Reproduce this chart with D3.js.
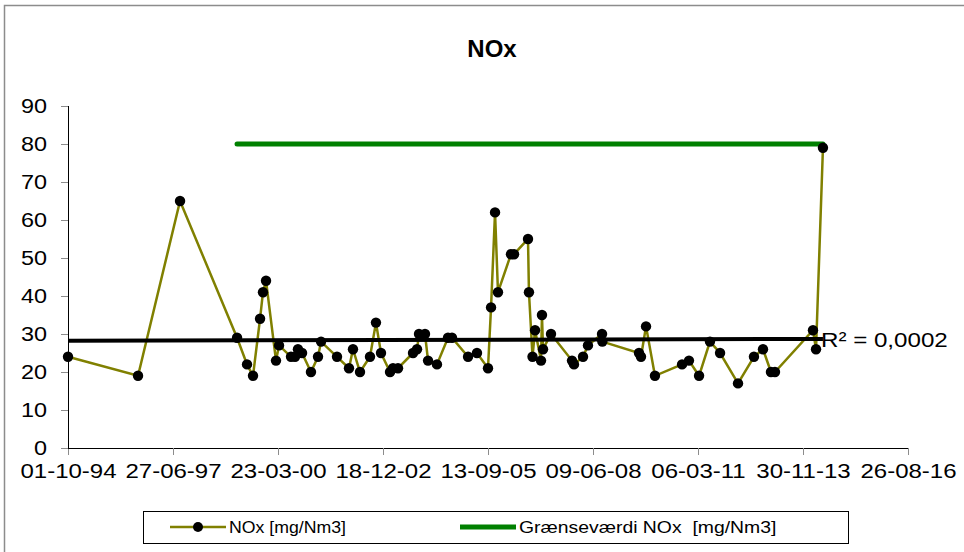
<!DOCTYPE html>
<head>
<meta charset="utf-8">
<title>NOx</title>
<script src="https://d3js.org/d3.v7.min.js"></script>
<style>
body { margin: 0; background: #fff; }
text { font-family: Arial, "Liberation Sans", sans-serif; fill: #000; }
.axis path, .axis line { shape-rendering: crispEdges; }
</style>
</head>
<body>
<div id="container"></div>
<script>

//------------------------DATA-------------------------//

// measurement dates (dd-mm-yy) and NOx values [mg/Nm3]
const noxDates = [
  "01-10-94","29-07-96","02-09-97","27-02-99","02-06-99","29-07-99","04-10-99","01-11-99",
  "30-11-99","04-03-00","02-04-00","25-07-00","01-09-00","29-09-00","07-11-00","31-01-01",
  "08-04-01","07-05-01","06-10-01","28-01-02","07-03-02","13-05-02","16-08-02","12-10-02",
  "29-11-02","23-02-03","23-03-03","10-05-03","30-09-03","07-11-03","26-11-03","22-01-04",
  "20-02-04","15-05-04","28-08-04","05-10-04","07-03-05","31-05-05","13-09-05","12-10-05",
  "19-11-05","17-12-05","20-04-06","19-05-06","29-09-06","08-10-06","11-11-06","05-12-06",
  "31-01-07","09-02-07","19-02-07","06-05-07","22-11-07","11-12-07","06-03-08","22-04-08",
  "03-09-08","06-09-08","21-08-09","09-09-09","27-10-09","20-01-10","05-10-10","10-12-10",
  "16-03-11","28-06-11","02-10-11","21-03-12","20-08-12","14-11-12","29-01-13","08-03-13",
  "05-03-14","03-04-14","08-06-14"
];
const noxValues = [
  24, 19, 65, 29, 22, 19, 34, 41,
  44, 23, 27, 24, 24, 26, 25, 20,
  24, 28, 24, 21, 26, 20, 24, 33,
  25, 20, 21, 21, 25, 26, 30, 30,
  23, 22, 29, 29, 24, 25, 21, 37,
  62, 41, 51, 51, 55, 41, 24, 31,
  23, 35, 26, 30, 23, 22, 24, 27,
  30, 28, 25, 24, 32, 19, 22, 23,
  19, 28, 25, 17, 24, 26, 20, 20,
  31, 26, 79
];

// limit value line
const limitDates = ["27-02-99", "08-06-14"];
const limitValues = [80, 80];

// linear trend line
const trendDates = ["01-10-94", "08-06-14"];
const trendValues = [28.2, 28.7];
const trendLabel = "R² = 0,0002";

const xTickLabels = ["01-10-94","27-06-97","23-03-00","18-12-02","13-09-05","09-06-08","06-03-11","30-11-13","26-08-16"];
const yTicks = [0, 10, 20, 30, 40, 50, 60, 70, 80, 90];

const seriesNames = ["NOx [mg/Nm3]", "Grænseværdi NOx  [mg/Nm3]"];
const chartTitle = "NOx";

//------------------------HELPERS-------------------------//

// widen text horizontally (the original glyphs are a bit wider than Arial)
function stretch(sel, factor) {
  sel.each(function() {
    const w = this.getComputedTextLength();
    d3.select(this)
      .attr("textLength", w * factor)
      .attr("lengthAdjust", "spacingAndGlyphs");
  });
}

//------------------------SVG-------------------------//

const W = 964, H = 552;
const margin = {top: 106, right: 56, bottom: 104, left: 68};

const svg = d3.select("#container").append("svg")
    .attr("width", W)
    .attr("height", H);

// chart frame (cropped at right and bottom)
svg.append("path")
    .attr("d", "M4.5," + H + "V5.5H" + W)
    .attr("fill", "none")
    .attr("stroke", "#8c8c8c")
    .attr("stroke-width", 1.5);

const parse = d3.utcParse("%d-%m-%y");
const fmt = d3.utcFormat("%d-%m-%y");

const tickDates = xTickLabels.map(parse);

const x = d3.scaleUtc()
    .domain([tickDates[0], tickDates[tickDates.length - 1]])
    .range([margin.left, W - margin.right]);

const y = d3.scaleLinear()
    .domain([0, 90])
    .range([H - margin.bottom, margin.top]);

const nox = noxDates.map((d, i) => ({date: parse(d), value: noxValues[i]}));
const limit = limitDates.map((d, i) => ({date: parse(d), value: limitValues[i]}));
const trend = trendDates.map((d, i) => ({date: parse(d), value: trendValues[i]}));

//------------------------AXES-------------------------//

const xAxis = svg.append("g")
    .attr("class", "axis")
    .attr("transform", "translate(0," + y(0) + ")")
    .call(d3.axisBottom(x).tickValues(tickDates).tickFormat(fmt).tickSizeOuter(0).tickSize(7).tickPadding(9));

const yAxis = svg.append("g")
    .attr("class", "axis")
    .attr("transform", "translate(" + margin.left + ",0)")
    .call(d3.axisLeft(y).tickValues(yTicks).tickSizeOuter(0).tickSize(7).tickPadding(14));

[xAxis, yAxis].forEach(function(g) {
  g.select(".domain").attr("stroke", "#000").attr("stroke-width", 1.2);
  g.selectAll(".tick line").attr("stroke", "#8c8c8c");
  g.selectAll(".tick text").style("font-size", "20px").attr("fill", "#000");
});
stretch(xAxis.selectAll(".tick text"), 1.2);
stretch(yAxis.selectAll(".tick text"), 1.17);

//------------------------LINES-------------------------//

const line = d3.line()
    .x(d => x(d.date))
    .y(d => y(d.value));

svg.append("path")
    .datum(limit)
    .attr("d", line)
    .attr("fill", "none")
    .attr("stroke", "#008000")
    .attr("stroke-width", 5)
    .attr("stroke-linecap", "round");

svg.append("path")
    .datum(nox)
    .attr("d", line)
    .attr("fill", "none")
    .attr("stroke", "#808000")
    .attr("stroke-width", 2.5);

svg.append("path")
    .datum(trend)
    .attr("d", line)
    .attr("fill", "none")
    .attr("stroke", "#000")
    .attr("stroke-width", 4);

svg.selectAll(".point")
    .data(nox)
    .enter()
    .append("circle")
    .attr("class", "point")
    .attr("cx", d => x(d.date))
    .attr("cy", d => y(d.value))
    .attr("r", 5.2)
    .attr("fill", "#000");

svg.append("text")
    .attr("x", x(trend[1].date) - 2)
    .attr("y", y(trend[1].value) + 8)
    .style("font-size", "21px")
    .text(trendLabel)
    .call(stretch, 1.15);

//------------------------TITLE-------------------------//

svg.append("text")
    .attr("x", 492)
    .attr("y", 57)
    .attr("text-anchor", "middle")
    .style("font-size", "24px")
    .style("font-weight", "bold")
    .text(chartTitle);

//------------------------LEGEND-------------------------//

const legend = svg.append("g");

legend.append("rect")
    .attr("x", 143.5)
    .attr("y", 511.5)
    .attr("width", 705)
    .attr("height", 32)
    .attr("fill", "#fff")
    .attr("stroke", "#000")
    .attr("stroke-width", 1);

const lg1 = legend.append("g").attr("transform", "translate(170,527)");
lg1.append("line").attr("x1", 0).attr("x2", 56).attr("stroke", "#808000").attr("stroke-width", 2.5);
lg1.append("circle").attr("cx", 28).attr("r", 5).attr("fill", "#000");
lg1.append("text").attr("x", 59).attr("y", 6).style("font-size", "17px").text(seriesNames[0]).call(stretch, 1.04);

const lg2 = legend.append("g").attr("transform", "translate(460,527)");
lg2.append("line").attr("x1", 0).attr("x2", 56).attr("stroke", "#008000").attr("stroke-width", 5);
lg2.append("text").attr("x", 59).attr("y", 6).style("font-size", "17px").style("white-space", "pre")
    .text(seriesNames[1]).call(stretch, 1.14);

</script>
</body>
